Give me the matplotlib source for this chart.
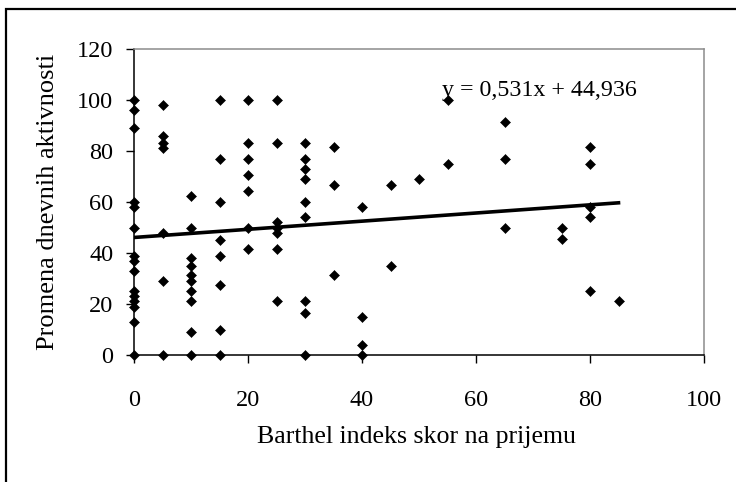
import numpy as np
import matplotlib
matplotlib.use("Agg")
import matplotlib.pyplot as plt
from matplotlib.patches import Rectangle

# Barthel index on admission vs. change in daily activities
barthel_0 = [100, 96, 89, 60, 58, 50, 39, 37, 33, 25, 23, 21, 19, 13, 0]
barthel_5 = [98, 86, 83, 81, 48, 29, 0]
barthel_10 = [62.5, 50, 38, 35, 31.5, 29, 25, 21, 9, 0]
barthel_15 = [100, 77, 60, 45, 39, 27.5, 10, 0]
barthel_20 = [100, 83, 77, 70.5, 64.5, 50, 41.5]
barthel_25 = [100, 83, 52, 50, 48, 41.5, 21]
barthel_30 = [83, 77, 73, 69, 60, 54, 21, 16.5, 0]
barthel_35 = [81.5, 66.5, 31.3]
barthel_40 = [58, 15, 4, 0]
barthel_45 = [66.5, 35]
barthel_50 = [69]
barthel_55 = [100, 75]
barthel_65 = [91.5, 77, 50]
barthel_75 = [50, 45.3]
barthel_80 = [81.5, 75, 58, 54, 25]
barthel_85 = [21]

groups = {
    0: barthel_0, 5: barthel_5, 10: barthel_10, 15: barthel_15,
    20: barthel_20, 25: barthel_25, 30: barthel_30, 35: barthel_35,
    40: barthel_40, 45: barthel_45, 50: barthel_50, 55: barthel_55,
    65: barthel_65, 75: barthel_75, 80: barthel_80, 85: barthel_85,
}
x = np.concatenate([[k] * len(v) for k, v in groups.items()]).astype(float)
y = np.concatenate([v for v in groups.values()]).astype(float)

x_ticks = [0, 20, 40, 60, 80, 100]
y_ticks = [0, 20, 40, 60, 80, 100, 120]
equation = "y = 0,531x + 44,936"

plt.rcParams["font.family"] = ["Liberation Serif", "DejaVu Serif"]

fig = plt.figure(figsize=(7.36, 4.82), dpi=100)
ax = fig.add_axes([134 / 736, 1 - 355 / 482, 570 / 736, 306 / 482])

ax.plot(x, y, linestyle="none", marker="D", markersize=5.0,
        color="black", markeredgewidth=0.4, clip_on=False, zorder=3)

# least-squares trend over the observed range
slope, intercept = np.polyfit(x, y, 1)
xf = np.array([x.min(), x.max()])
ax.plot(xf, intercept + slope * xf, color="black", linewidth=2.6, zorder=4)

ax.text(71.2, 101.6, equation, ha="center", va="baseline", fontsize=17.3)

ax.set_xlim(0, 100)
ax.set_ylim(0, 120)
ax.set_xticks(x_ticks)
ax.set_yticks(y_ticks)
ax.tick_params(direction="out", length=6, width=1, labelsize=17.5, color="black")
ax.tick_params(axis="x", pad=19)
ax.tick_params(axis="y", pad=9)

for side in ("left", "bottom"):
    ax.spines[side].set_color("black")
    ax.spines[side].set_linewidth(1.1)
for side in ("top", "right"):
    ax.spines[side].set_color("#8c8c8c")
    ax.spines[side].set_linewidth(1.1)

ax.set_xlabel("Barthel indeks skor na prijemu", fontsize=18.6)
ax.xaxis.set_label_coords(0.496, -0.268)
ax.xaxis.label.set_va("center")
ax.set_ylabel("Promena dnevnih aktivnosti", fontsize=19)
ax.yaxis.set_label_coords(-0.151, 0.50)
ax.yaxis.label.set_va("center")

# outer chart frame
fig.patches.append(Rectangle((6 / 736, -0.5), 2.0, 0.5 + (1 - 9 / 482),
                             transform=fig.transFigure, fill=False,
                             edgecolor="black", linewidth=1.6))

fig.savefig("out.png", dpi=100)
